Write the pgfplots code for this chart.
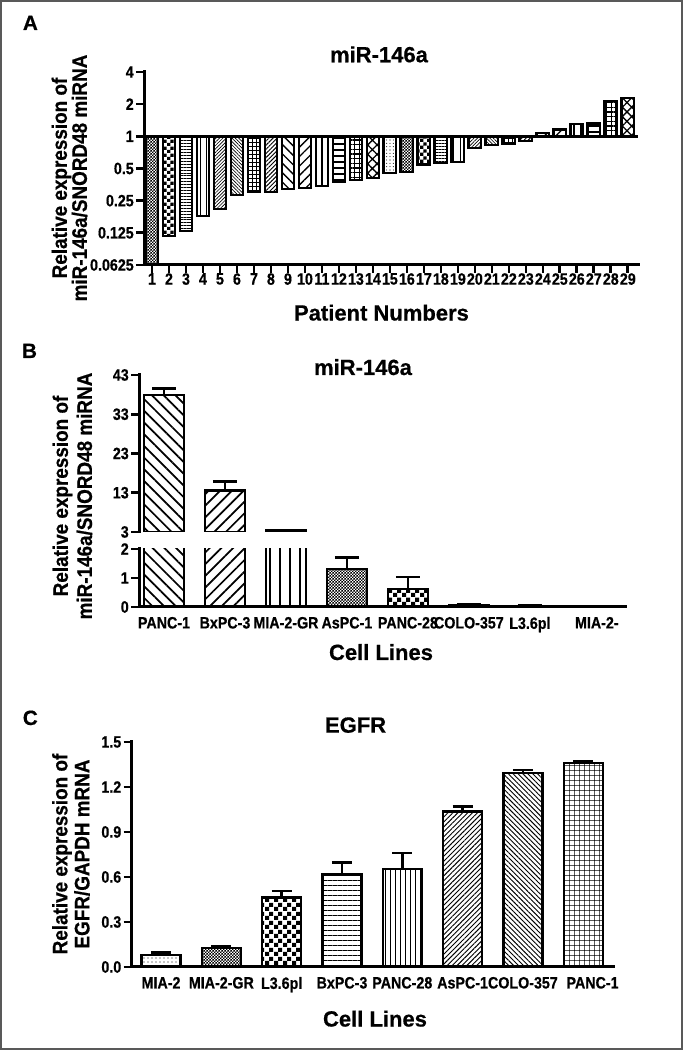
\documentclass[border=0pt]{standalone}
\usepackage{fontspec}
\setmainfont{Liberation Sans}[BoldFeatures={FakeBold=0.6}]
\newfontfamily\tickf{Liberation Sans}[FakeStretch=0.87, BoldFeatures={FakeBold=0.6}]
\newfontfamily\labf{Liberation Sans}[FakeStretch=0.9, BoldFeatures={FakeBold=0.6}]
\usepackage{pgfplots}
\pgfplotsset{compat=1.18}
\usetikzlibrary{patterns,patterns.meta}
\pgfdeclarepatternformonly{chkF}{\pgfqpoint{0pt}{0pt}}{\pgfqpoint{2.2pt}{2.2pt}}{\pgfqpoint{2.2pt}{2.2pt}}{%
 \pgfpathrectangle{\pgfqpoint{0pt}{0pt}}{\pgfqpoint{1.1pt}{1.1pt}}%
 \pgfpathrectangle{\pgfqpoint{1.1pt}{1.1pt}}{\pgfqpoint{1.1pt}{1.1pt}}%
 \pgfusepath{fill}}
\pgfdeclarepatternformonly{chkM}{\pgfqpoint{0pt}{0pt}}{\pgfqpoint{5pt}{5pt}}{\pgfqpoint{5pt}{5pt}}{%
 \pgfpathrectangle{\pgfqpoint{0pt}{0pt}}{\pgfqpoint{2.5pt}{2.5pt}}%
 \pgfpathrectangle{\pgfqpoint{2.5pt}{2.5pt}}{\pgfqpoint{2.5pt}{2.5pt}}%
 \pgfusepath{fill}}
\pgfdeclarepatternformonly{chkL}{\pgfqpoint{0pt}{0pt}}{\pgfqpoint{6.4pt}{6.4pt}}{\pgfqpoint{6.4pt}{6.4pt}}{%
 \pgfpathrectangle{\pgfqpoint{0pt}{0pt}}{\pgfqpoint{3.2pt}{3.2pt}}%
 \pgfpathrectangle{\pgfqpoint{3.2pt}{3.2pt}}{\pgfqpoint{3.2pt}{3.2pt}}%
 \pgfusepath{fill}}
\pgfplotsset{
  myaxis/.style={
    scale only axis, anchor=south west,
    axis line style={line width=2.25pt, line cap=rect},
    every tick/.style={line width=2pt, black},
    tick align=outside, major tick length=6pt,
    tick label style={font=\tickf\bfseries\fontsize{12.3}{12}\selectfont, inner sep=0pt},
    yticklabel shift=1.5pt,
    /pgf/number format/assume math mode=true,
    ybar,
  },
  mybar/.style={ybar, bar shift=0pt, draw=black, line width=1.7pt,
    error bars/y dir=plus, error bars/y explicit,
    error bars/error bar style={line width=1.9pt, black},
    error bars/error mark options={rotate=90, line width=1.9pt, black, mark size=#1}},
  mybar/.default=9pt,
}
\begin{document}
\begin{tikzpicture}
\useasboundingbox (0,0) rectangle (512.25pt,787.5pt);
\draw[line width=1.5pt, draw=black!65] (0.75pt,0.75pt) rectangle (511.5pt,786.75pt);

% ---------------- Panel A ----------------
\node[anchor=base west, inner sep=0pt, font=\bfseries\fontsize{15.5}{15}\selectfont] at (17pt,765pt) {A};
\node[anchor=base, font=\bfseries\fontsize{16.5}{16}\selectfont] at (284.25pt,740.8pt) {miR-146a};
\node[anchor=base, font=\bfseries\fontsize{16.5}{16.5}\selectfont] at (286.1pt,547.1pt) {Patient Numbers};
\node[rotate=90, align=center, font=\labf\bfseries\fontsize{15.75}{15}\selectfont] at (52.1pt,654pt) {Relative expression of\\miR-146a/SNORD48 miRNA};
\begin{axis}[myaxis, at={(108pt,588.75pt)}, width=370.5pt, height=144.75pt,
  axis lines*=left,
  ymode=log, log basis y=2, ymin=0.0625, ymax=4,
  ytick={0.0625,0.125,0.25,0.5,1,2,4},
  yticklabels={0.0625,0.125,0.25,0.5,1,2,4},
  xmin=0.53, xmax=29.6, xtick={1,...,29},
  bar width=9.4pt]
\addplot[mybar, pattern=chkF] coordinates {(1,0.0625)};
\addplot[mybar, pattern=chkM] coordinates {(2,0.117)};
\addplot[mybar, pattern={Lines[angle=0,distance=2.2pt,line width=0.6pt]}] coordinates {(3,0.130)};
\addplot[mybar, pattern={Lines[angle=90,distance=5pt,line width=0.6pt]}] coordinates {(4,0.179)};
\addplot[mybar, pattern={Lines[angle=45,distance=1.8pt,line width=0.5pt]}] coordinates {(5,0.21)};
\addplot[mybar, pattern={Lines[angle=-45,distance=1.8pt,line width=0.5pt]}] coordinates {(6,0.283)};
\addplot[mybar, pattern={Hatch[angle=0,distance=3pt,line width=0.5pt]}] coordinates {(7,0.302)};
\addplot[mybar, pattern={Lines[angle=45,distance=2.2pt,line width=0.7pt]}] coordinates {(8,0.302)};
\addplot[mybar, pattern={Lines[angle=-45,distance=5pt,line width=1pt]}] coordinates {(9,0.32)};
\addplot[mybar, pattern={Lines[angle=45,distance=5pt,line width=1pt]}] coordinates {(10,0.33)};
\addplot[mybar, pattern={Lines[angle=90,distance=5.25pt,line width=0.8pt]}] coordinates {(11,0.344)};
\addplot[mybar, pattern={Lines[angle=0,distance=4.5pt,line width=1pt]}] coordinates {(12,0.374)};
\addplot[mybar, pattern={Hatch[angle=0,distance=3.5pt,line width=0.8pt]}] coordinates {(13,0.388)};
\addplot[mybar, pattern={Hatch[angle=45,distance=5pt,line width=1pt]}] coordinates {(14,0.409)};
\addplot[mybar, pattern={Dots[distance=2.5pt,radius=0.4pt]}] coordinates {(15,0.452)};
\addplot[mybar, pattern=chkF] coordinates {(16,0.46)};
\addplot[mybar, pattern=chkM] coordinates {(17,0.544)};
\addplot[mybar, pattern={Lines[angle=0,distance=2.2pt,line width=0.6pt]}] coordinates {(18,0.563)};
\addplot[mybar, pattern={Lines[angle=90,distance=5pt,line width=0.6pt]}] coordinates {(19,0.575)};
\addplot[mybar, pattern={Lines[angle=45,distance=1.8pt,line width=0.5pt]}] coordinates {(20,0.773)};
\addplot[mybar, pattern={Lines[angle=-45,distance=1.8pt,line width=0.5pt]}] coordinates {(21,0.836)};
\addplot[mybar, pattern={Hatch[angle=0,distance=3pt,line width=0.5pt]}] coordinates {(22,0.848)};
\addplot[mybar, pattern={Lines[angle=45,distance=2.2pt,line width=0.7pt]}] coordinates {(23,0.90)};
\addplot[mybar, pattern={Lines[angle=-45,distance=5pt,line width=1pt]}] coordinates {(24,1.08)};
\addplot[mybar, pattern={Lines[angle=45,distance=5pt,line width=1pt]}] coordinates {(25,1.16)};
\addplot[mybar, pattern={Lines[angle=90,distance=5.25pt,line width=0.8pt]}] coordinates {(26,1.30)};
\addplot[mybar, pattern={Lines[angle=0,distance=4.5pt,line width=1pt]}] coordinates {(27,1.32)};
\addplot[mybar, pattern={Hatch[angle=0,distance=3.5pt,line width=0.8pt]}] coordinates {(28,2.15)};
\addplot[mybar, pattern={Hatch[angle=45,distance=5pt,line width=1pt]}] coordinates {(29,2.28)};
\draw[line width=2.25pt] (axis cs:0.53,1) -- (axis cs:29.6,1);
\end{axis}

% ---------------- Panel B ----------------
\node[anchor=base west, inner sep=0pt, font=\bfseries\fontsize{15.5}{15}\selectfont] at (16.35pt,519pt) {B};
\node[anchor=base, font=\bfseries\fontsize{16.5}{16}\selectfont] at (272.25pt,506.25pt) {miR-146a};
\node[anchor=base, font=\bfseries\fontsize{16.5}{16.5}\selectfont] at (285.75pt,292.5pt) {Cell Lines};
\node[rotate=90, align=center, font=\labf\bfseries\fontsize{15.75}{18}\selectfont] at (54.4pt,415.5pt) {Relative expression of\\miR-146a/SNORD48 miRNA};
\begin{axis}[myaxis, at={(104.25pt,388.5pt)}, width=364.5pt, height=117.75pt,
  axis x line=none, axis y line*=left,
  ymin=3, ymax=43, ytick={3,13,23,33,43},
  xmin=0.59, xmax=8.56, xtick=\empty,
  bar width=30pt]
\addplot[mybar, pattern={Lines[angle=-45,distance=6.2pt,line width=1.3pt]}] coordinates {(1,37.9) +- (0,1.6)};
\addplot[mybar, pattern={Lines[angle=45,distance=6.2pt,line width=1.3pt]}] coordinates {(2,13.6) +- (0,2.2)};
\addplot[mybar, pattern={Lines[angle=90,distance=7.5pt,line width=1.8pt]}] coordinates {(3,3.4) +- (0,0.1)};
\end{axis}
\begin{axis}[myaxis, at={(104.25pt,332.25pt)}, width=364.5pt, height=43.5pt,
  axis lines*=left,
  ymin=0, ymax=2, ytick={0,1,2},
  xmin=0.59, xmax=8.56, xtick={1,...,8},
  xticklabels={PANC-1,BxPC-3,MIA-2-GR,AsPC-1,PANC-28,COLO-357,L3.6pl,\hspace*{9pt}MIA-2-},
  x tick style={draw=none}, xticklabel shift=1.3pt,
  bar width=30pt]
\addplot[mybar, pattern={Lines[angle=-45,distance=6.2pt,line width=1.3pt]}] coordinates {(1,37.9) +- (0,1.6)};
\addplot[mybar, pattern={Lines[angle=45,distance=6.2pt,line width=1.3pt]}] coordinates {(2,13.6) +- (0,2.2)};
\addplot[mybar, pattern={Lines[angle=90,distance=7.5pt,line width=1.8pt]}] coordinates {(3,3.4) +- (0,0.1)};
\addplot[mybar, pattern=chkF] coordinates {(4,1.31) +- (0,0.40)};
\addplot[mybar, pattern=chkL] coordinates {(5,0.62) +- (0,0.41)};
\addplot[mybar, pattern=chkF] coordinates {(6,0.07) +- (0,0.02)};
\addplot[mybar, pattern=chkF] coordinates {(7,0.045) +- (0,0.01)};
\addplot[mybar, pattern=chkF] coordinates {(8,0.005) +- (0,0)};
\end{axis}

% ---------------- Panel C ----------------
\node[anchor=base west, inner sep=0pt, font=\bfseries\fontsize{15.5}{15}\selectfont] at (16.95pt,243.75pt) {C};
\node[anchor=base, font=\bfseries\fontsize{16.5}{16}\selectfont] at (266.7pt,238pt) {EGFR};
\node[anchor=base, font=\bfseries\fontsize{16.5}{16.5}\selectfont] at (281.25pt,17.6pt) {Cell Lines};
\node[rotate=90, align=center, font=\labf\bfseries\fontsize{15.75}{16.5}\selectfont] at (53.25pt,147pt) {Relative expression of\\EGFR/GAPDH mRNA};
\begin{axis}[myaxis, at={(98.625pt,62.25pt)}, width=361.875pt, height=168.75pt,
  axis lines*=left,
  ymin=0, ymax=1.5, ytick={0,0.3,0.6,0.9,1.2,1.5},
  yticklabels={0.0,0.3,0.6,0.9,1.2,1.5},
  xmin=0.51, xmax=8.51, xtick={1,...,8},
  xticklabels={MIA-2,MIA-2-GR,L3.6pl,BxPC-3,PANC-28,AsPC-1,COLO-357,\hspace*{14pt}PANC-1},
  x tick style={draw=none}, xticklabel shift=1.3pt,
  bar width=29.25pt]
\addplot[mybar=7.5pt, pattern={Dots[distance=3pt,radius=0.45pt]}] coordinates {(1,0.078) +- (0,0.018)};
\addplot[mybar=7.5pt, pattern=chkF] coordinates {(2,0.129) +- (0,0.011)};
\addplot[mybar=7.5pt, pattern=chkL] coordinates {(3,0.464) +- (0,0.043)};
\addplot[mybar=7.5pt, pattern={Lines[angle=0,distance=3.75pt,line width=0.7pt]}] coordinates {(4,0.616) +- (0,0.082)};
\addplot[mybar=7.5pt, pattern={Lines[angle=90,distance=3.75pt,line width=0.7pt]}] coordinates {(5,0.651) +- (0,0.109)};
\addplot[mybar=7.5pt, pattern={Lines[angle=45,distance=2.6pt,line width=0.7pt]}] coordinates {(6,1.036) +- (0,0.035)};
\addplot[mybar=7.5pt, pattern={Lines[angle=-45,distance=2.6pt,line width=0.7pt]}] coordinates {(7,1.291) +- (0,0.022)};
\addplot[mybar=7.5pt, pattern={Hatch[angle=0,distance=4pt,line width=0.6pt]}] coordinates {(8,1.358) +- (0,0.013)};
\end{axis}
\end{tikzpicture}
\end{document}
